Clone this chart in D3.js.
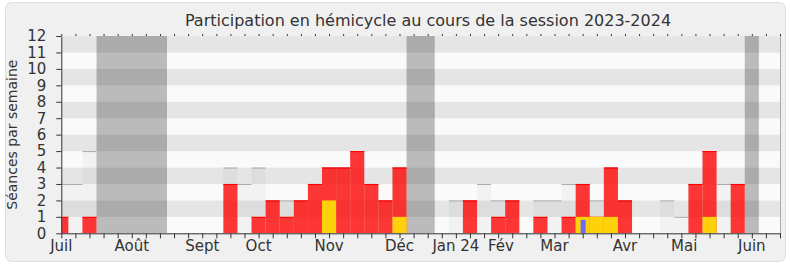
<!DOCTYPE html>
<html>
<head>
<meta charset="utf-8">
<script src="https://cdn.jsdelivr.net/npm/d3@7"></script>
<style>
  html, body { margin: 0; padding: 0; background: #fff; }
  svg { display: block; font-family: "DejaVu Sans", Verdana, sans-serif; }
</style>
</head>
<body>
<div id="chart"></div>
<script>
// semaines 0..51 (juillet 2023 -> juin 2024)
var totalSeances = [3, 3, 5, 0, 0, 0, 0, 0, 0, 0, 0, 0, 4, 3, 4, 2, 2, 2, 3, 4, 4, 5, 3, 2, 4, 0,
                    0, 0, 2, 2, 3, 2, 2, 0, 2, 2, 3, 3, 2, 4, 2, 0, 0, 2, 1, 3, 5, 3, 3, 0, 0, 0];
var presences    = [1, 0, 1, 0, 0, 0, 0, 0, 0, 0, 0, 0, 3, 0, 1, 2, 1, 2, 3, 4, 4, 5, 3, 2, 4, 0,
                    0, 0, 0, 2, 0, 1, 2, 0, 1, 0, 1, 3, 1, 4, 2, 0, 0, 0, 0, 3, 5, 0, 3, 0, 0, 0];
var interventions = [0, 0, 0, 0, 0, 0, 0, 0, 0, 0, 0, 0, 0, 0, 0, 0, 0, 0, 0, 2, 0, 0, 0, 0, 1, 0,
                    0, 0, 0, 0, 0, 0, 0, 0, 0, 0, 0, 1, 1, 1, 0, 0, 0, 0, 0, 0, 1, 0, 0, 0, 0, 0];
var questions    = [0, 0, 0, 0, 0, 0, 0, 0, 0, 0, 0, 0, 0, 0, 0, 0, 0, 0, 0, 0, 0, 0, 0, 0, 0, 0,
                    0, 0, 0, 0, 0, 0, 0, 0, 0, 0, 0, 1, 0, 0, 0, 0, 0, 0, 0, 0, 0, 0, 0, 0, 0, 0];
// vacances parlementaires (première et dernière semaine)
var vacances = [[3, 7], [25, 26], [49, 49]];
var moisLabels = ["Juil", "Août", "Sept", "Oct", "Nov", "Déc", "Jan 24", "Fév", "Mar", "Avr", "Mai", "Juin"];
var moisSemaines = [0, 5, 10, 14, 19, 24, 28, 31.2, 35, 40, 44.2, 49];
var yTicks = [0, 1, 2, 3, 4, 5, 6, 7, 8, 9, 10, 11, 12];

(function() {
    var width = 790, height = 267;
    var mLeft = 61.3, mRight = 780, mTop = 36, mBottom = 233.3;

    var svg = d3.select("#chart").append("svg")
        .attr("width", width)
        .attr("height", height);

    // cadre
    svg.append("rect")
        .attr("x", 5.5).attr("y", 2.5)
        .attr("width", 780).attr("height", 259)
        .attr("rx", 6)
        .style("fill", "#f0f0f0")
        .style("stroke", "#dedede");

    var x = d3.scaleLinear().domain([0, 51]).range([mLeft, mRight]);
    var y = d3.scaleLinear().domain([0, 12]).range([mBottom, mTop]);

    svg.append("clipPath").attr("id", "plot-clip")
        .append("rect")
        .attr("x", mLeft).attr("y", mTop)
        .attr("width", mRight - mLeft).attr("height", mBottom - mTop);

    var plot = svg.append("g").attr("clip-path", "url(#plot-clip)");

    // bandes horizontales
    plot.selectAll(".band")
        .data(d3.range(0, 12))
        .enter().append("rect")
        .attr("x", mLeft)
        .attr("width", mRight - mLeft)
        .attr("y", function(d) { return y(d + 1); })
        .attr("height", function(d) { return y(d) - y(d + 1); })
        .style("fill", function(d) { return d % 2 === 1 ? "#e5e5e5" : "#fafafa"; });

    // vacances
    plot.selectAll(".vac")
        .data(vacances)
        .enter().append("rect")
        .attr("x", function(d) { return x(d[0] - 0.5); })
        .attr("width", function(d) { return x(d[1] + 0.5) - x(d[0] - 0.5); })
        .attr("y", mTop)
        .attr("height", mBottom - mTop)
        .style("fill", "#000")
        .style("fill-opacity", 0.25);

    function weekData(arr) {
        return arr.map(function(v, i) { return {i: i, v: v}; })
            .filter(function(d) { return d.v > 0; });
    }

    function x0(d) { return x(d.i - 0.5); }
    function bw(d) { return x(d.i + 0.5) - x(d.i - 0.5); }

    // séances totales
    var tot = plot.selectAll(".tot")
        .data(weekData(totalSeances))
        .enter().append("g");
    tot.append("rect")
        .attr("x", x0).attr("width", bw)
        .attr("y", function(d) { return y(d.v); })
        .attr("height", function(d) { return mBottom - y(d.v); })
        .style("fill", "#000")
        .style("fill-opacity", 0.03);
    tot.append("line")
        .attr("x1", x0)
        .attr("x2", function(d) { return x(d.i + 0.5); })
        .attr("y1", function(d) { return y(d.v) + 0.5; })
        .attr("y2", function(d) { return y(d.v) + 0.5; })
        .style("stroke", "#aaa")
        .style("stroke-width", 1);

    // présences
    var pres = plot.selectAll(".pres")
        .data(weekData(presences))
        .enter().append("g");
    pres.append("rect")
        .attr("x", x0).attr("width", bw)
        .attr("y", function(d) { return y(d.v); })
        .attr("height", function(d) { return mBottom - y(d.v); })
        .style("fill", "#ff0000")
        .style("fill-opacity", 0.78);
    pres.append("line")
        .attr("x1", x0)
        .attr("x2", function(d) { return x(d.i + 0.5); })
        .attr("y1", function(d) { return y(d.v) + 0.5; })
        .attr("y2", function(d) { return y(d.v) + 0.5; })
        .style("stroke", "#f00")
        .style("stroke-width", 1);

    // interventions
    plot.selectAll(".interv")
        .data(weekData(interventions))
        .enter().append("rect")
        .attr("x", x0).attr("width", bw)
        .attr("y", function(d) { return y(d.v); })
        .attr("height", function(d) { return mBottom - y(d.v); })
        .style("fill", "#ffd10a");

    // questions
    plot.selectAll(".quest")
        .data(weekData(questions))
        .enter().append("rect")
        .attr("x", function(d) { return x0(d) + 5; })
        .attr("width", 5)
        .attr("y", function(d) { return y(d.v) + 3; })
        .attr("height", function(d) { return mBottom - y(d.v) - 3; })
        .style("fill", "#6b6bff");

    // bordure droite
    svg.append("line")
        .attr("x1", mRight + 0.5).attr("x2", mRight + 0.5)
        .attr("y1", mTop).attr("y2", mBottom)
        .style("stroke", "#aaa");

    // axes
    var yAxis = svg.append("g")
        .attr("transform", "translate(" + mLeft + ",0)")
        .call(d3.axisLeft(y).tickValues(yTicks).tickSize(5).tickPadding(10).tickSizeOuter(0));

    svg.append("g")
        .attr("transform", "translate(0," + mBottom + ")")
        .call(d3.axisBottom(x).tickValues(d3.range(0, 52)).tickSize(5).tickFormat("").tickSizeOuter(0));

    var xTop = svg.append("g")
        .attr("transform", "translate(0," + mTop + ")")
        .call(d3.axisTop(x).tickValues(d3.range(0, 52)).tickSize(2).tickFormat("").tickSizeOuter(0));
    xTop.select(".domain").remove();

    svg.selectAll(".domain, .tick line").style("stroke", "#333");
    yAxis.selectAll("text").style("font-size", "15px").style("fill", "#333")
        .style("font-family", "DejaVu Sans, sans-serif");

    svg.selectAll(".mois")
        .data(moisLabels)
        .enter().append("text")
        .attr("x", function(d, i) { return x(moisSemaines[i]); })
        .attr("y", 251)
        .attr("text-anchor", "middle")
        .style("font-size", "15px")
        .style("fill", "#333")
        .text(function(d) { return d; });

    // titres
    svg.append("text")
        .attr("x", 428)
        .attr("y", 26)
        .attr("text-anchor", "middle")
        .style("font-size", "16px")
        .style("fill", "#333")
        .text("Participation en hémicycle au cours de la session 2023-2024");

    svg.append("text")
        .attr("transform", "translate(17," + ((mTop + mBottom) / 2) + ") rotate(-90)")
        .attr("text-anchor", "middle")
        .style("font-size", "14px")
        .style("fill", "#333")
        .text("Séances par semaine");
})();
</script>
</body>
</html>
